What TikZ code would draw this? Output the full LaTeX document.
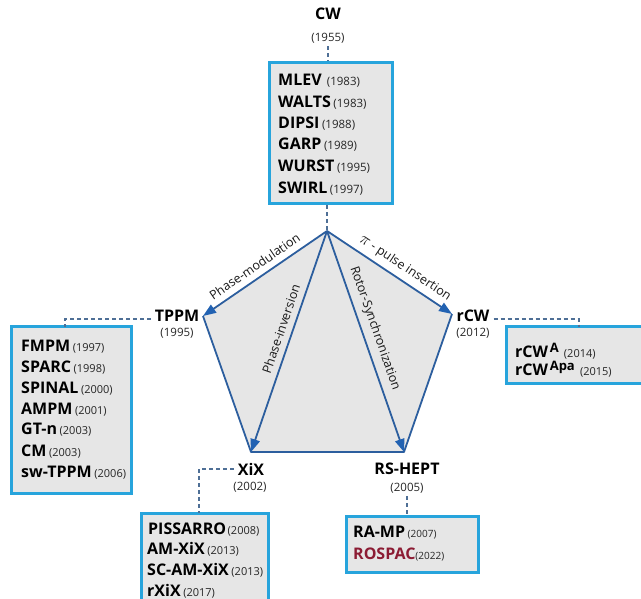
\documentclass[tikz,border=0pt]{standalone}
\usepackage{fontspec}
\setmainfont{Open Sans}
\usetikzlibrary{arrows.meta,calc}
\definecolor{boxborder}{HTML}{27A4DC}
\definecolor{boxfill}{HTML}{E6E6E6}
\definecolor{edgeblue}{HTML}{2C5E9E}
\definecolor{arrblue}{HTML}{2262B2}
\definecolor{dashcol}{HTML}{4E6F96}
\definecolor{rosred}{HTML}{8C1C34}
\newcommand{\nm}[1]{{\fontsize{16}{18}\selectfont\bfseries #1}}
\newcommand{\yr}[1]{{\fontsize{11.5}{13}\selectfont\color{black!85}#1}}
\newcommand{\yrs}[1]{{\fontsize{11}{12}\selectfont\color{black!85}#1}}
\newcommand{\sps}[1]{\raisebox{0.42em}{\fontsize{13}{13}\selectfont\bfseries #1}}
\begin{document}
\begin{tikzpicture}[x=1pt,y=-1pt,
  box/.style={draw=boxborder, line width=3pt, fill=boxfill, inner sep=0pt},
  entry/.style={anchor=base west, inner sep=0pt},
  title/.style={inner sep=0pt, font=\fontsize{16}{18}\selectfont\bfseries},
  year/.style={inner sep=0pt, font=\fontsize{11.5}{13}\selectfont, text=black!85},
  edge/.style={draw=edgeblue, line width=1.8pt, line join=round},
  arr/.style={-{Triangle[length=13pt,width=9.5pt,fill=arrblue,color=arrblue]}},
  elabel/.style={font=\fontsize{12.5}{14}\selectfont, inner sep=2.5pt, text=black!90},
  dashline/.style={draw=dashcol, line width=1.3pt, dash pattern=on 4pt off 3pt}
]
\useasboundingbox (0,0) rectangle (641,599);

% pentagon
\coordinate (vt) at (327,231);
\coordinate (vl) at (203,316);
\coordinate (vbl) at (251,452);
\coordinate (vbr) at (404,452);
\coordinate (vr) at (452,314);
\fill[boxfill] (vt) -- (vl) -- (vbl) -- (vbr) -- (vr) -- cycle;
\draw[edge] (vl) -- (vbl) -- (vbr) -- (vr);
\draw[edge,arr] (vt) -- (vl) node[elabel, pos=0.53, sloped, above=3.5pt] (lpm) {Phase-modulation};
\draw[edge,arr] (vt) -- (vbl) node[elabel, pos=0.46, sloped, above=3.5pt] (lpi) {Phase-inversion};
\draw[edge,arr] (vt) -- (vbr) node[elabel, pos=0.46, sloped, above=3.5pt] (lrs) {Rotor-Synchronization};
\draw[edge,arr] (vt) -- (vr) node[elabel, pos=0.57, sloped, above=2.5pt] (lpp) {{\fontsize{19}{19}\selectfont$\pi$} - pulse insertion};

% CW
\node[title] (cw) at (328,14) {CW};
\node[year] (cwyear) at (328,38) {(1955)};
\node[box, minimum width=123pt, minimum height=141pt] (cwbox) at (330.5,133.5) {};
\node[entry] (cw1) at (278,86) {\nm{MLEV}\ \ \yr{(1983)}};
\node[entry] (cw2) at (278,108) {\nm{WALTS} \yr{(1983)}};
\node[entry] (cw3) at (278,129) {\nm{DIPSI} \yr{(1988)}};
\node[entry] (cw4) at (278,150) {\nm{GARP} \yr{(1989)}};
\node[entry] (cw5) at (278,172) {\nm{WURST} \yr{(1995)}};
\node[entry] (cw6) at (278,194) {\nm{SWIRL} \yr{(1997)}};
\draw[dashline] ([yshift=-3pt]cwyear.south) -- (cwyear.south |- cwbox.north);
\draw[dashline] (vt |- cwbox.south) -- (vt);

% TPPM
\node[title] (tppm) at (177,316) {TPPM};
\node[year] (tppmyear) at (177,333) {(1995)};
\node[box, minimum width=120pt, minimum height=166pt] (tppmbox) at (71,410) {};
\coordinate (tppmdash) at (65,327);
\node[entry] (tp1) at (21,352) {\nm{FMPM} \yrs{(1997)}};
\node[entry] (tp2) at (21,372) {\nm{SPARC} \yrs{(1998)}};
\node[entry] (tp3) at (21,393) {\nm{SPINAL} \yrs{(2000)}};
\node[entry] (tp4) at (21,414) {\nm{AMPM} \yrs{(2001)}};
\node[entry] (tp5) at (21,435) {\nm{GT-n} \yrs{(2003)}};
\node[entry] (tp6) at (21,456) {\nm{CM} \yrs{(2003)}};
\node[entry] (tp7) at (21,477) {\nm{sw-TPPM} \yrs{(2006)}};
\draw[dashline] ([xshift=-4pt,yshift=-3pt]tppm.west) -| (tppmdash);

% rCW
\node[title] (rcw) at (473,316) {rCW};
\node[year] (rcwyear) at (473,333) {(2012)};
\node[box, minimum width=150pt, minimum height=56pt] (rcwbox) at (581,355) {};
\coordinate (rcwdash) at (579,327);
\node[entry] (rc1) at (515,357) {\nm{rCW}\,\sps{A}\ \ \yrs{(2014)}};
\node[entry] (rc2) at (515,375) {\nm{rCW}\,\sps{Apa}\ \ \yrs{(2015)}};
\draw[dashline] ([xshift=4pt,yshift=-3pt]rcw.east) -| (rcwdash);

% XiX
\node[title] (xix) at (251,469) {XiX};
\node[year] (xixyear) at (250,487) {(2002)};
\node[box, minimum width=127pt, minimum height=100pt] (xixbox) at (204.5,563) {};
\coordinate (xixdash) at (199,513);
\node[entry] (xx1) at (148,534) {\nm{PISSARRO}\,\yrs{(2008)}};
\node[entry] (xx2) at (147,554) {\nm{AM-XiX} \yrs{(2013)}};
\node[entry] (xx3) at (147,575) {\nm{SC-AM-XiX} \yrs{(2013)}};
\node[entry] (xx4) at (147,596) {\nm{rXiX} \yrs{(2017)}};
\draw[dashline] ([xshift=-4pt]xix.west) -| (xixdash);

% RS-HEPT
\node[title] (rs) at (407,469) {RS-HEPT};
\node[year] (rsyear) at (407,488) {(2005)};
\node[box, minimum width=132pt, minimum height=56pt] (rsbox) at (412,544) {};
\node[entry] (rs1) at (353,537) {\nm{RA-MP} {\fontsize{10}{11}\selectfont\color{black!85}(2007)}};
\node[entry] (rs2) at (353,559) {\textcolor{rosred}{\nm{ROSPAC}}{\fontsize{10}{11}\selectfont\color{black!85}(2022)}};
\draw[dashline] ([yshift=-3pt]rsyear.south) -- (rsyear.south |- rsbox.north);
\end{tikzpicture}
\end{document}
